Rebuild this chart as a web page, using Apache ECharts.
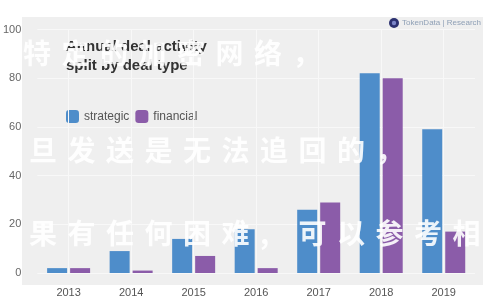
<!DOCTYPE html>
<html><head><meta charset="utf-8">
<script src="https://cdn.jsdelivr.net/npm/echarts@6/dist/echarts.min.js"></script>
<style>html,body{margin:0;padding:0;background:#fff}#c{width:500px;height:300px}</style>
</head><body><div id="c"></div>
<script>
const categories = ['2013','2014','2015','2016','2017','2018','2019'];
const strategic = [2, 9, 14, 18, 26, 82, 59];
const financial = [2, 1, 7, 2, 29, 80, 17];
const yTicks = [0, 20, 40, 60, 80, 100];
const seriesNames = ['strategic', 'financial'];
const titleLines = ['Annual deal activity', 'split by deal type'];
const watermark = ['特定的加密网络，', '旦发送是无法追回的，', '果有任何困难,可以参考相'];

const chart = echarts.init(document.getElementById('c'), null, {renderer: 'canvas'});
const font = 'Liberation Sans, Arial, sans-serif';

const wmStarts = [[23, 39], [29, 136], [29, 219]];
const wmGraphics = [];
watermark.forEach((line, li) => {
  Array.from(line).forEach((ch, i) => {
    wmGraphics.push({
      type: 'text', x: wmStarts[li][0] + i * 38.5, y: wmStarts[li][1], z: 100, silent: true,
      style: {text: ch, fontSize: 28, fontWeight: 'bold', fill: '#ffffff',
        fontFamily: 'Noto Sans CJK SC', opacity: 0.9,
        shadowColor: 'rgba(0,0,0,0.08)', shadowBlur: 3}
    });
  });
});

chart.setOption({
  animation: false,
  backgroundColor: '#ffffff',
  color: ['#4e8dca', '#8b5ca9'],
  title: {
    text: titleLines.join('\n'), left: 61, top: 32,
    textStyle: {fontSize: 15, fontWeight: 'bold', color: '#333', fontFamily: font, lineHeight: 19}
  },
  legend: {
    data: seriesNames, left: 61, top: 105, icon: 'roundRect',
    itemWidth: 13, itemHeight: 13, itemGap: 6,
    textStyle: {fontSize: 12, color: '#555', fontFamily: font}
  },
  grid: {left: 33, right: 25, top: 29.5, bottom: 27, containLabel: false},
  xAxis: {
    type: 'category', data: categories,
    axisLine: {show: false}, axisTick: {show: false},
    axisLabel: {fontSize: 11, color: '#555', margin: 14, fontFamily: font},
    splitLine: {show: false}
  },
  yAxis: {
    type: 'value', min: 0, max: 100, interval: 20,
    axisLine: {show: false}, axisTick: {show: false},
    axisLabel: {fontSize: 11, color: '#666', margin: 16, fontFamily: font,
      formatter: v => yTicks.includes(v) ? String(v) : ''},
    splitLine: {lineStyle: {color: '#f8f8f8', width: 1}}
  },
  graphic: [
    {type: 'rect', shape: {x: 22, y: 17, width: 461, height: 268}, style: {fill: '#efefef'}, z: -10, silent: true},
    {type: 'circle', shape: {cx: 394, cy: 23, r: 5}, style: {fill: '#2c3170'}, z: 10},
    {type: 'circle', shape: {cx: 394, cy: 23, r: 2.2}, style: {fill: '#7c86c8'}, z: 11},
    {type: 'text', left: 402, top: 19, style: {text: 'TokenData | Research', fontSize: 8, fill: '#8fa0b6', fontFamily: font}, z: 10}
  ].concat(wmGraphics),
  series: [
    {name: 'strategic', type: 'bar', data: strategic, barWidth: 20, barGap: '15%', z: 3},
    {name: 'financial', type: 'bar', data: financial, barWidth: 20, z: 3},
    {type: 'line', data: [], z: 1, silent: true,
     markLine: {silent: true, symbol: 'none', label: {show: false},
       lineStyle: {color: '#f8f8f8', type: 'solid', width: 1},
       data: categories.map(c => ({xAxis: c}))}}
  ]
});
</script></body></html>
